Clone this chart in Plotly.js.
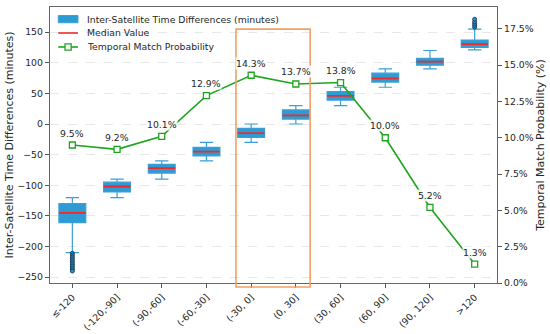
<!DOCTYPE html>
<html>
<head>
<meta charset="utf-8">
<script src="https://cdn.plot.ly/plotly-3.0.1.min.js"></script>
<style>html,body{margin:0;padding:0;background:#fff}#chart{width:550px;height:334px}</style>
</head>
<body>
<div id="chart"></div>
<script>
const categories = ["≤-120", "(-120,-90]", "(-90,-60]", "(-60,-30]", "(-30, 0]", "(0, 30]", "(30, 60]", "(60, 90]", "(90, 120]", ">120"];
const lowerWhisker = [-210, -120, -90, -60, -30, 0, 30, 60, 90, 121];
const q1Values = [-161, -111, -80, -52, -22, 8, 39, 68.5, 96, 125];
const medianValues = [-145, -102, -72, -45, -15, 14, 46, 74.5, 102, 130.5];
const q3Values = [-130, -95, -66, -38, -7, 23, 53, 83, 107, 137];
const upperWhisker = [-120, -90, -60, -30, 0, 30, 60, 90, 120, 155];
const outlierCats = ["≤-120","≤-120","≤-120","≤-120","≤-120","≤-120","≤-120","≤-120","≤-120","≤-120","≤-120", ">120", ">120", ">120", ">120", ">120"];
const outlierValues = [-211, -214, -217, -220, -223, -226, -229, -232, -235, -238, -240, 158, 161, 164, 167, 171];
const matchProb = [9.5, 9.2, 10.1, 12.9, 14.3, 13.7, 13.8, 10.0, 5.2, 1.3];
const probLabels = ["9.5%", "9.2%", "10.1%", "12.9%", "14.3%", "13.7%", "13.8%", "10.0%", "5.2%", "1.3%"];
const legendNames = ["Inter-Satellite Time Differences (minutes)", "Median Value", "Temporal Match Probability"];

const FONT = "DejaVu Sans, Liberation Sans, sans-serif";
const TXT = "#262626";
const BOXFILL = "#2e9bd2", BOXLINE = "#3a9fd8", MEDC = "#ee2a2a", GREEN = "#1ea51e";

const traces = [
  {
    type: "box", name: legendNames[0],
    x: categories, q1: q1Values, median: medianValues, q3: q3Values,
    lowerfence: lowerWhisker, upperfence: upperWhisker,
    width: 0.6, whiskerwidth: 0.5, boxpoints: false,
    fillcolor: BOXFILL, line: {color: BOXLINE, width: 1.2},
    hoverinfo: "skip"
  },
  {
    type: "box", name: legendNames[1],
    x: categories, q1: medianValues, median: medianValues, q3: medianValues,
    lowerfence: medianValues, upperfence: medianValues,
    width: 0.6, whiskerwidth: 0, boxpoints: false,
    fillcolor: "rgba(0,0,0,0)", line: {color: MEDC, width: 1.8},
    hoverinfo: "skip"
  },
  {
    type: "scatter", mode: "markers", name: "outliers",
    x: outlierCats, y: outlierValues,
    marker: {symbol: "circle", size: 4, color: "#2e8fc8", line: {color: "#10304a", width: 0.8}},
    hoverinfo: "skip"
  },
  {
    type: "scatter", mode: "lines+markers", name: legendNames[2],
    x: categories, y: matchProb, yaxis: "y2",
    line: {color: GREEN, width: 1.6},
    marker: {symbol: "square", size: 6, color: "#ffffff", line: {color: GREEN, width: 1.3}},
    cliponaxis: false
  }
];

const annotations = categories.map((c, i) => ({
  x: c, y: matchProb[i], xref: "x", yref: "y2", text: probLabels[i],
  showarrow: false, yshift: 12, bgcolor: "rgba(255,255,255,0.85)", borderpad: 0,
  font: {family: FONT, size: 9.3, color: TXT}
}));

// legend (drawn in paper coordinates)
const legY = [0.9565, 0.9058, 0.8551];
legendNames.forEach((t, i) => annotations.push({
  xref: "paper", yref: "paper", x: 0.0783, y: legY[i], xanchor: "left", yanchor: "middle",
  text: t, showarrow: false, font: {family: FONT, size: 9.3, color: TXT}
}));

const shapes = [
  {type: "rect", xref: "paper", yref: "paper", x0: 0.416, x1: 0.582, y0: -0.0145, y1: 0.92,
   line: {color: "#f3a068", width: 1.6}, fillcolor: "rgba(0,0,0,0)", layer: "above"},
  {type: "rect", xref: "paper", yref: "paper", x0: 0.0185, x1: 0.0625, y0: 0.943, y1: 0.969,
   line: {color: BOXLINE, width: 1}, fillcolor: BOXFILL, layer: "above"},
  {type: "line", xref: "paper", yref: "paper", x0: 0.0185, x1: 0.0625, y0: legY[1], y1: legY[1],
   line: {color: MEDC, width: 1.6}, layer: "above"},
  {type: "line", xref: "paper", yref: "paper", x0: 0.0185, x1: 0.0625, y0: legY[2], y1: legY[2],
   line: {color: GREEN, width: 1.6}, layer: "above"},
  {type: "rect", xref: "paper", yref: "paper", x0: 0.0336, x1: 0.0474, y0: legY[2] - 0.0112, y1: legY[2] + 0.0112,
   line: {color: GREEN, width: 1.3}, fillcolor: "#ffffff", layer: "above"}
];

const layout = {
  width: 550, height: 334,
  margin: {l: 50, r: 53, t: 7, b: 51},
  paper_bgcolor: "#ffffff", plot_bgcolor: "#ffffff",
  font: {family: FONT, size: 9.3, color: TXT},
  showlegend: false,
  boxmode: "overlay",
  xaxis: {
    type: "category", categoryorder: "array", categoryarray: categories,
    range: [-0.5, 9.5], tickangle: -45, ticks: "outside", ticklen: 4, tickcolor: "#555",
    showline: true, linecolor: "#666", linewidth: 1.2, mirror: true, showgrid: false,
    tickfont: {family: FONT, size: 9.3, color: TXT}, automargin: false
  },
  yaxis: {
    range: [-259.5, 191], tick0: 0, dtick: 50, ticks: "outside", ticklen: 4, tickcolor: "#555",
    showline: true, linecolor: "#666", linewidth: 1.2, zeroline: false,
    showgrid: true, gridcolor: "#e2e2e2", griddash: "dash", gridwidth: 0.8,
    title: {text: "Inter-Satellite Time Differences (minutes)", font: {family: FONT, size: 11, color: TXT}, standoff: 1},
    tickfont: {family: FONT, size: 9.3, color: TXT}, automargin: false
  },
  yaxis2: {
    overlaying: "y", side: "right", range: [0, 19], tick0: 0, dtick: 2.5,
    tickformat: ".1f", ticksuffix: "%", ticks: "outside", ticklen: 4, tickcolor: "#555",
    showline: true, linecolor: "#666", linewidth: 1.2, zeroline: false, showgrid: false,
    title: {text: "Temporal Match Probability (%)", font: {family: FONT, size: 11, color: TXT}, standoff: 3},
    tickfont: {family: FONT, size: 9.3, color: TXT}, automargin: false
  },
  shapes: shapes,
  annotations: annotations
};

Plotly.newPlot("chart", traces, layout, {staticPlot: true, displayModeBar: false});
</script>
</body>
</html>
